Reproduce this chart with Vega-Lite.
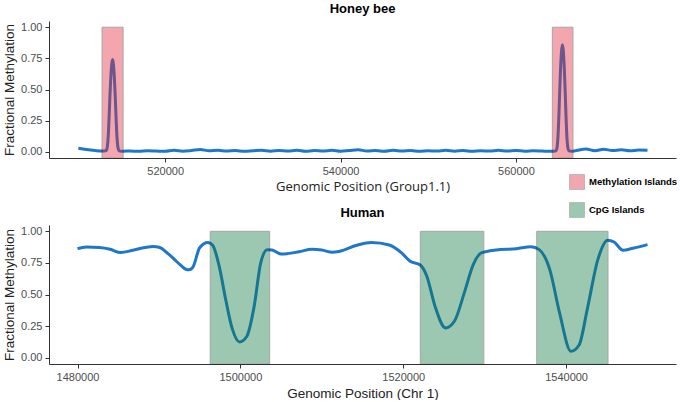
{
  "$schema": "https://vega.github.io/schema/vega-lite/v6.json",
  "background": "white",
  "padding": {"left": 2, "top": 3, "right": 0, "bottom": 0},
  "config": {
    "view": {"stroke": null},
    "font": "Liberation Sans",
    "axis": {"grid": false, "domainColor": "#333333", "tickColor": "#333333", "tickSize": 4, "labelColor": "#4d4d4d", "labelFontSize": 11, "labelOverlap": false, "titleFontSize": 13.5, "titleFontWeight": "normal", "titleColor": "#222222", "labelPadding": 3},
    "title": {"fontSize": 13, "fontWeight": "bold", "anchor": "middle", "color": "#000000"},
    "concat": {"spacing": 14}
  },
  "datasets": {
    "bee": [
      {"pos": 510100, "meth": 0.028}, {"pos": 511000, "meth": 0.018}, {"pos": 512000, "meth": 0.010}, {"pos": 512800, "meth": 0.006},
      {"pos": 513200, "meth": 0.008}, {"pos": 513300, "meth": 0.012}, {"pos": 513400, "meth": 0.04}, {"pos": 513500, "meth": 0.12},
      {"pos": 513600, "meth": 0.27}, {"pos": 513700, "meth": 0.45}, {"pos": 513800, "meth": 0.60}, {"pos": 513900, "meth": 0.70},
      {"pos": 514000, "meth": 0.74}, {"pos": 514100, "meth": 0.70}, {"pos": 514200, "meth": 0.60}, {"pos": 514300, "meth": 0.45},
      {"pos": 514400, "meth": 0.27}, {"pos": 514500, "meth": 0.12}, {"pos": 514600, "meth": 0.04}, {"pos": 514700, "meth": 0.012},
      {"pos": 514800, "meth": 0.006}, {"pos": 515200, "meth": 0.005}, {"pos": 516000, "meth": 0.006}, {"pos": 517000, "meth": 0.004},
      {"pos": 518000, "meth": 0.008}, {"pos": 519000, "meth": 0.006}, {"pos": 520000, "meth": 0.004}, {"pos": 521000, "meth": 0.012},
      {"pos": 522000, "meth": 0.005}, {"pos": 523000, "meth": 0.010}, {"pos": 524000, "meth": 0.018}, {"pos": 525000, "meth": 0.008},
      {"pos": 526000, "meth": 0.012}, {"pos": 527000, "meth": 0.006}, {"pos": 528000, "meth": 0.010}, {"pos": 529000, "meth": 0.004},
      {"pos": 530000, "meth": 0.008}, {"pos": 531000, "meth": 0.012}, {"pos": 532000, "meth": 0.005}, {"pos": 533000, "meth": 0.010},
      {"pos": 534000, "meth": 0.006}, {"pos": 535000, "meth": 0.012}, {"pos": 536000, "meth": 0.004}, {"pos": 537000, "meth": 0.010},
      {"pos": 538000, "meth": 0.006}, {"pos": 539000, "meth": 0.012}, {"pos": 540000, "meth": 0.004}, {"pos": 541000, "meth": 0.010},
      {"pos": 542000, "meth": 0.016}, {"pos": 543000, "meth": 0.006}, {"pos": 544000, "meth": 0.010}, {"pos": 545000, "meth": 0.004},
      {"pos": 546000, "meth": 0.012}, {"pos": 547000, "meth": 0.006}, {"pos": 548000, "meth": 0.010}, {"pos": 549000, "meth": 0.004},
      {"pos": 550000, "meth": 0.008}, {"pos": 551000, "meth": 0.006}, {"pos": 552000, "meth": 0.012}, {"pos": 553000, "meth": 0.005},
      {"pos": 554000, "meth": 0.010}, {"pos": 555000, "meth": 0.004}, {"pos": 556000, "meth": 0.008}, {"pos": 557000, "meth": 0.006},
      {"pos": 558000, "meth": 0.012}, {"pos": 559000, "meth": 0.006}, {"pos": 560000, "meth": 0.010}, {"pos": 561000, "meth": 0.005},
      {"pos": 562000, "meth": 0.008}, {"pos": 563000, "meth": 0.006}, {"pos": 564000, "meth": 0.004}, {"pos": 564500, "meth": 0.006},
      {"pos": 564600, "meth": 0.012}, {"pos": 564700, "meth": 0.04}, {"pos": 564800, "meth": 0.13}, {"pos": 564900, "meth": 0.30},
      {"pos": 565000, "meth": 0.51}, {"pos": 565100, "meth": 0.69}, {"pos": 565200, "meth": 0.81}, {"pos": 565300, "meth": 0.86},
      {"pos": 565400, "meth": 0.81}, {"pos": 565500, "meth": 0.69}, {"pos": 565600, "meth": 0.51}, {"pos": 565700, "meth": 0.30},
      {"pos": 565800, "meth": 0.13}, {"pos": 565900, "meth": 0.04}, {"pos": 566000, "meth": 0.012}, {"pos": 566100, "meth": 0.006},
      {"pos": 566500, "meth": 0.005}, {"pos": 567000, "meth": 0.012}, {"pos": 568000, "meth": 0.022}, {"pos": 569000, "meth": 0.008},
      {"pos": 570000, "meth": 0.020}, {"pos": 571000, "meth": 0.010}, {"pos": 572000, "meth": 0.016}, {"pos": 573000, "meth": 0.008},
      {"pos": 574000, "meth": 0.014}, {"pos": 575000, "meth": 0.012}
    ],
    "beeIslands": [
      {"start": 512800, "end": 515200, "type": "Methylation Islands"},
      {"start": 564150, "end": 566500, "type": "Methylation Islands"}
    ],
    "human": [
      {"pos": 1480000, "meth": 0.863}, {"pos": 1481100, "meth": 0.876}, {"pos": 1482700, "meth": 0.872}, {"pos": 1484000, "meth": 0.858},
      {"pos": 1485300, "meth": 0.832}, {"pos": 1486800, "meth": 0.85}, {"pos": 1488300, "meth": 0.872}, {"pos": 1489300, "meth": 0.88},
      {"pos": 1490100, "meth": 0.872}, {"pos": 1491000, "meth": 0.83}, {"pos": 1491700, "meth": 0.79}, {"pos": 1492700, "meth": 0.73},
      {"pos": 1493300, "meth": 0.70}, {"pos": 1493700, "meth": 0.695}, {"pos": 1494200, "meth": 0.72}, {"pos": 1495000, "meth": 0.87},
      {"pos": 1496000, "meth": 0.912}, {"pos": 1496600, "meth": 0.89}, {"pos": 1497400, "meth": 0.724}, {"pos": 1498200, "meth": 0.46},
      {"pos": 1499000, "meth": 0.23}, {"pos": 1499900, "meth": 0.125}, {"pos": 1500800, "meth": 0.17}, {"pos": 1501700, "meth": 0.408},
      {"pos": 1502500, "meth": 0.75}, {"pos": 1503300, "meth": 0.855}, {"pos": 1503900, "meth": 0.852}, {"pos": 1505000, "meth": 0.82},
      {"pos": 1507200, "meth": 0.838}, {"pos": 1508800, "meth": 0.858}, {"pos": 1510000, "meth": 0.852}, {"pos": 1511300, "meth": 0.834},
      {"pos": 1512100, "meth": 0.84}, {"pos": 1514300, "meth": 0.89}, {"pos": 1516100, "meth": 0.912}, {"pos": 1518300, "meth": 0.892},
      {"pos": 1519800, "meth": 0.829}, {"pos": 1520800, "meth": 0.765}, {"pos": 1522100, "meth": 0.734}, {"pos": 1522900, "meth": 0.645},
      {"pos": 1523900, "meth": 0.408}, {"pos": 1525200, "meth": 0.235}, {"pos": 1526300, "meth": 0.29}, {"pos": 1527500, "meth": 0.513},
      {"pos": 1528600, "meth": 0.737}, {"pos": 1529600, "meth": 0.829}, {"pos": 1531400, "meth": 0.852}, {"pos": 1533900, "meth": 0.862},
      {"pos": 1535700, "meth": 0.878}, {"pos": 1536700, "meth": 0.855}, {"pos": 1538000, "meth": 0.697}, {"pos": 1539200, "meth": 0.355},
      {"pos": 1540600, "meth": 0.05}, {"pos": 1541600, "meth": 0.1}, {"pos": 1542600, "meth": 0.382}, {"pos": 1543900, "meth": 0.776},
      {"pos": 1545100, "meth": 0.93}, {"pos": 1545900, "meth": 0.915}, {"pos": 1547000, "meth": 0.85}, {"pos": 1548200, "meth": 0.866},
      {"pos": 1550000, "meth": 0.895}
    ],
    "humanIslands": [
      {"start": 1496300, "end": 1503600, "type": "CpG Islands"},
      {"start": 1522100, "end": 1529900, "type": "CpG Islands"},
      {"start": 1536400, "end": 1545150, "type": "CpG Islands"}
    ]
  },
  "vconcat": [
    {
      "title": {"text": "Honey bee", "offset": 5},
      "width": 627,
      "height": 137,
      "layer": [
        {
          "data": {"name": "bee"},
          "mark": {"type": "line", "color": "#1f77c9", "strokeWidth": 3, "interpolate": "monotone"},
          "encoding": {
            "x": {"field": "pos", "type": "quantitative", "scale": {"domain": [506750, 578250], "nice": false, "zero": false},
                  "axis": {"values": [520000, 540000, 560000], "format": "d", "title": "Genomic Position (Group1.1)", "titleFont": "Open Sans", "titleFontSize": 13, "titlePadding": 4}},
            "y": {"field": "meth", "type": "quantitative", "scale": {"domain": [-0.05, 1.05], "nice": false, "zero": false},
                  "axis": {"values": [0, 0.25, 0.5, 0.75, 1], "labelOverlap": false, "format": ".2f", "title": "Fractional Methylation", "titlePadding": 4}}
          }
        },
        {
          "data": {"name": "beeIslands"},
          "mark": {"type": "rect", "opacity": 0.4, "stroke": "#222222", "strokeWidth": 1},
          "encoding": {
            "x": {"field": "start", "type": "quantitative",
                  "axis": {"values": [520000, 540000, 560000], "format": "d", "title": "Genomic Position (Group1.1)", "titleFont": "Open Sans", "titleFontSize": 13, "titlePadding": 4}},
            "x2": {"field": "end"},
            "y": {"datum": 1, "type": "quantitative",
                  "axis": {"values": [0, 0.25, 0.5, 0.75, 1], "labelOverlap": false, "format": ".2f", "title": "Fractional Methylation", "titlePadding": 4}},
            "y2": {"datum": -0.05},
            "color": {"field": "type", "type": "nominal",
                      "scale": {"domain": ["Methylation Islands", "CpG Islands"], "range": ["#e32334", "#0a783e"]},
                      "legend": {"title": null, "orient": "none", "legendX": 520, "legendY": 153, "labelFontWeight": "bold", "labelFontSize": 9.5, "labelColor": "#000000", "symbolSize": 225, "symbolType": "square", "rowPadding": 8, "labelOffset": 4, "symbolStrokeColor": "#555555", "symbolStrokeWidth": 1}}
          }
        },
        {
          "mark": {"type": "rule", "color": "#8a8a8a", "strokeWidth": 1.2},
          "encoding": {"y": {"datum": 1, "type": "quantitative",
                  "axis": {"values": [0, 0.25, 0.5, 0.75, 1], "labelOverlap": false, "format": ".2f", "title": "Fractional Methylation", "titlePadding": 4}}}
        }
      ]
    },
    {
      "title": {"text": "Human", "offset": 5},
      "width": 627,
      "height": 139,
      "layer": [
        {
          "data": {"name": "human"},
          "mark": {"type": "line", "color": "#1f77c9", "strokeWidth": 3, "interpolate": "monotone"},
          "encoding": {
            "x": {"field": "pos", "type": "quantitative", "scale": {"domain": [1476500, 1553500], "nice": false, "zero": false},
                  "axis": {"values": [1480000, 1500000, 1520000, 1540000], "format": "d", "title": "Genomic Position (Chr 1)", "titlePadding": 4}},
            "y": {"field": "meth", "type": "quantitative", "scale": {"domain": [-0.05, 1.05], "nice": false, "zero": false},
                  "axis": {"values": [0, 0.25, 0.5, 0.75, 1], "labelOverlap": false, "format": ".2f", "title": "Fractional Methylation", "titlePadding": 4}}
          }
        },
        {
          "data": {"name": "humanIslands"},
          "mark": {"type": "rect", "opacity": 0.4, "stroke": "#222222", "strokeWidth": 1},
          "encoding": {
            "x": {"field": "start", "type": "quantitative",
                  "axis": {"values": [1480000, 1500000, 1520000, 1540000], "format": "d", "title": "Genomic Position (Chr 1)", "titlePadding": 4}},
            "x2": {"field": "end"},
            "y": {"datum": 1, "type": "quantitative",
                  "axis": {"values": [0, 0.25, 0.5, 0.75, 1], "labelOverlap": false, "format": ".2f", "title": "Fractional Methylation", "titlePadding": 4}},
            "y2": {"datum": -0.05},
            "color": {"field": "type", "type": "nominal"}
          }
        },
        {
          "mark": {"type": "rule", "color": "#8a8a8a", "strokeWidth": 1.2},
          "encoding": {"y": {"datum": 1, "type": "quantitative",
                  "axis": {"values": [0, 0.25, 0.5, 0.75, 1], "labelOverlap": false, "format": ".2f", "title": "Fractional Methylation", "titlePadding": 4}}}
        }
      ]
    }
  ],
  "resolve": {"scale": {"color": "shared"}}
}
